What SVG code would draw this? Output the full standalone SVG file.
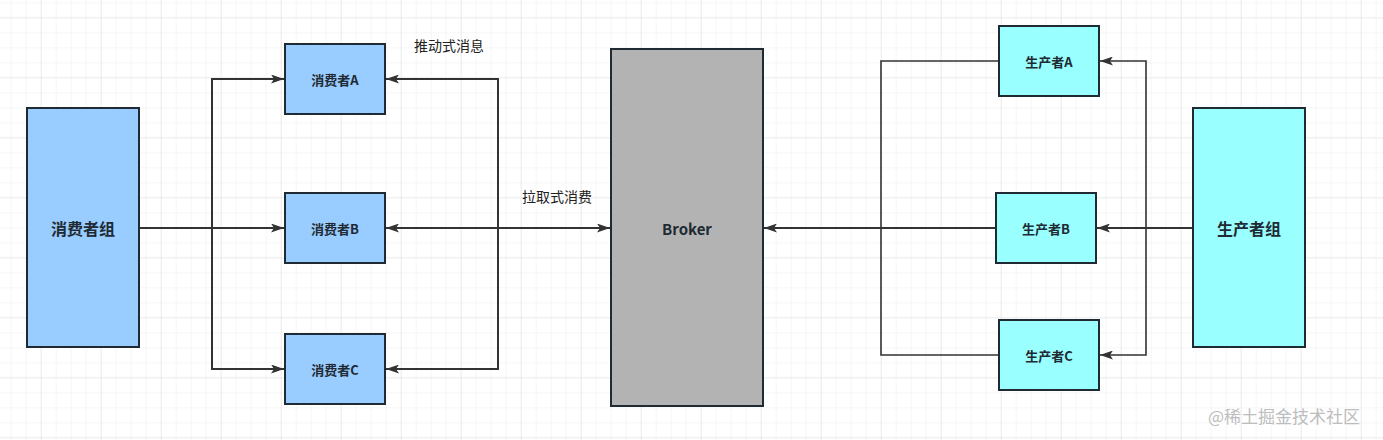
<svg xmlns="http://www.w3.org/2000/svg" width="1383" height="440" viewBox="0 0 1383 440">
<style>
.bg{fill:#ffffff}
.node{stroke:#1f2a33;stroke-width:2}
.cons{fill:#99CCFF}
.prod{fill:#99FFFF}
.broker{fill:#B3B3B3}
.t{font-family:"Noto Sans CJK SC","Liberation Sans",sans-serif;fill:#1f2a33;text-anchor:middle;dominant-baseline:central;font-weight:bold}
.s{font-size:13px}
.lbl{font-family:"Noto Sans CJK SC","Liberation Sans",sans-serif;fill:#222;font-size:14px;dominant-baseline:central}
.c{fill:none;stroke:#333;stroke-width:2}
.thin{stroke-width:1.6}
.wm{font-family:"Noto Sans CJK SC",sans-serif;font-size:17px;fill:#bdbdbd;dominant-baseline:central}
</style>
<defs>
<pattern id="minor" width="15" height="15" patternUnits="userSpaceOnUse" x="10.7" y="2.3">
<path d="M0,0 H15 M0,0 V15" fill="none" stroke="#eeeeee" stroke-width="1"/>
</pattern>
<pattern id="major" width="60" height="60" patternUnits="userSpaceOnUse" x="40.7" y="17.3">
<path d="M0,0 H60 M0,0 V60" fill="none" stroke="#e2e2e2" stroke-width="1"/>
</pattern>
<marker id="arr" viewBox="0 0 13 9" refX="13" refY="4.5" markerWidth="13" markerHeight="9" markerUnits="userSpaceOnUse" orient="auto-start-reverse">
<path d="M0,0 L13,4.5 L0,9 L3,4.5 z" fill="#333"/>
</marker>
</defs>
<rect class="bg" x="0" y="0" width="1383" height="440"/>
<rect x="0" y="0" width="1383" height="440" fill="url(#minor)"/>
<rect x="0" y="0" width="1383" height="440" fill="url(#major)"/>

<g id="connectors">
<path class="c" d="M139,228 L284,228" marker-end="url(#arr)"/>
<path class="c" d="M212,228 L212,79 L284,79" marker-end="url(#arr)"/>
<path class="c" d="M212,228 L212,369 L284,369" marker-end="url(#arr)"/>
<path class="c" d="M498,228 L498,79 L386,79" marker-end="url(#arr)"/>
<path class="c" d="M498,228 L498,369 L386,369" marker-end="url(#arr)"/>
<path class="c" d="M386,228 L610,228" marker-start="url(#arr)" marker-end="url(#arr)"/>
<path class="c thin" d="M998,61 L881,61 L881,355 L998,355"/>
<path class="c" d="M996,228 L764,228" marker-end="url(#arr)"/>
<path class="c thin" d="M1146,228 L1146,61 L1100,61" marker-end="url(#arr)"/>
<path class="c thin" d="M1146,228 L1146,355 L1100,355" marker-end="url(#arr)"/>
<path class="c" d="M1193,228 L1097,228" marker-end="url(#arr)"/>
</g>

<g id="consumer-group">
<rect class="node cons" x="27" y="108" width="112" height="239"/>
<text class="t" x="83" y="228" font-size="16">消费者组</text>
</g>
<g id="consumer-a">
<rect class="node cons" x="285" y="44" width="100" height="70"/>
<text class="t s" x="335" y="79">消费者A</text>
</g>
<g id="consumer-b">
<rect class="node cons" x="285" y="193" width="100" height="70"/>
<text class="t s" x="335" y="228">消费者B</text>
</g>
<g id="consumer-c">
<rect class="node cons" x="285" y="334" width="100" height="70"/>
<text class="t s" x="335" y="369">消费者C</text>
</g>
<g id="label-push">
<text class="lbl" x="414" y="45">推动式消息</text>
</g>
<g id="label-pull">
<text class="lbl" x="522" y="196">拉取式消费</text>
</g>
<g id="broker">
<rect class="node broker" x="611" y="49" width="152" height="357"/>
<text class="t" x="687" y="228" font-size="15" fill="#333">Broker</text>
</g>
<g id="producer-a">
<rect class="node prod" x="999" y="26" width="100" height="70"/>
<text class="t s" x="1049" y="61">生产者A</text>
</g>
<g id="producer-b">
<rect class="node prod" x="996" y="193" width="100" height="70"/>
<text class="t s" x="1046" y="228">生产者B</text>
</g>
<g id="producer-c">
<rect class="node prod" x="999" y="320" width="100" height="70"/>
<text class="t s" x="1049" y="355">生产者C</text>
</g>
<g id="producer-group">
<rect class="node prod" x="1193" y="108" width="112" height="239"/>
<text class="t" x="1249" y="228" font-size="16">生产者组</text>
</g>
<text class="wm" x="1208" y="415">@稀土掘金技术社区</text>
</svg>
